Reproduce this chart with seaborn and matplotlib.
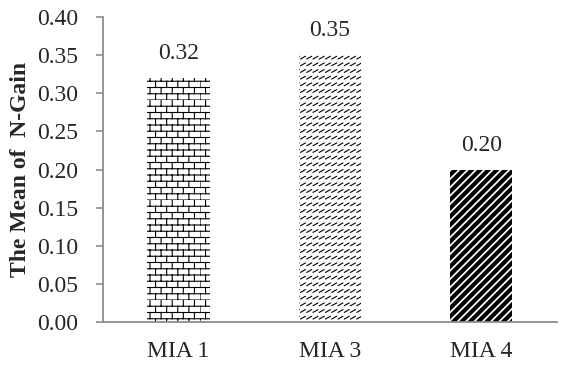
import warnings

import matplotlib
matplotlib.use("Agg")
import matplotlib.hatch as mhatch
import matplotlib.pyplot as plt
import numpy as np
import pandas as pd
import seaborn as sns
from matplotlib.path import Path

warnings.filterwarnings("ignore")

groups = ["MIA 1", "MIA 3", "MIA 4"]
mean_gain = [0.32, 0.35, 0.20]
value_labels = ["0.32", "0.35", "0.20"]
y_ticks = [0.00, 0.05, 0.10, 0.15, 0.20, 0.25, 0.30, 0.35, 0.40]


class BrickHatch(mhatch.HatchPatternBase):
    """Brick wall pattern, triggered by 'b'."""

    def __init__(self, hatch, density):
        self.rows = 16 if "b" in hatch else 0
        self.cols = 9
        self.num_lines = self.rows + self.rows * self.cols if self.rows else 0
        self.num_vertices = self.num_lines * 2

    def set_vertices_and_codes(self, vertices, codes):
        h = 1.0 / self.rows
        w = 1.0 / self.cols
        segs = []
        for i in range(self.rows):
            segs.append(((0.0, i * h), (1.0, i * h)))
            off = 0.0 if i % 2 == 0 else w / 2
            for k in range(self.cols):
                x = off + k * w
                segs.append(((x, i * h), (x, (i + 1) * h)))
        pts = np.array(segs).reshape(-1, 2)
        vertices[:] = pts
        codes[0::2] = Path.MOVETO
        codes[1::2] = Path.LINETO


class DashHatch(mhatch.HatchPatternBase):
    """Rows of short diagonal dashes, triggered by 'd'."""

    def __init__(self, hatch, density):
        self.rows = 15 if "d" in hatch else 0
        self.cols = 16
        self.num_lines = self.rows * self.cols
        self.num_vertices = self.num_lines * 2

    def set_vertices_and_codes(self, vertices, codes):
        h = 1.0 / self.rows
        w = 1.0 / self.cols
        segs = []
        for i in range(self.rows):
            y0 = i * h + 0.15 * h
            for k in range(self.cols):
                x0 = k * w + 0.1 * w
                segs.append(((x0, y0), (x0 + 0.75 * w, y0 + 0.4 * h)))
        pts = np.array(segs).reshape(-1, 2)
        vertices[:] = pts
        codes[0::2] = Path.MOVETO
        codes[1::2] = Path.LINETO


mhatch._hatch_types.extend([BrickHatch, DashHatch])

sns.set_theme(style="white")
plt.rcParams["font.family"] = ["Liberation Serif", "DejaVu Serif"]

df = pd.DataFrame({"group": groups, "gain": mean_gain})

fig = plt.figure(figsize=(5.65, 3.65), dpi=100)
ax = fig.add_axes([0.182, 0.118, 0.804, 0.835])

sns.barplot(data=df, x="group", y="gain", color="white", width=0.41, ax=ax)

hatches = ["b", "d", "////"]
hatch_lw = [0.8, 0.8, 3.0]
for patch, hatch, lw in zip(ax.patches, hatches, hatch_lw):
    patch.set_hatch(hatch)
    patch.set_edgecolor("black")
    patch.set_linewidth(0)
    if hasattr(patch, "set_hatch_linewidth"):
        patch.set_hatch_linewidth(lw)

ax.bar_label(ax.containers[0], labels=value_labels, padding=10, fontsize=17)

ax.set_ylim(0, 0.40)
ax.set_yticks(y_ticks)
ax.set_yticklabels([f"{t:.2f}" for t in y_ticks], fontsize=17)
ax.set_xlim(-0.5, 2.5)
ax.set_xticks(range(len(groups)))
ax.set_xticklabels(groups, fontsize=17)
ax.set_xticks([-0.5, 0.5, 1.5, 2.5], minor=True)
ax.tick_params(axis="x", which="major", length=0, pad=14)
ax.tick_params(axis="x", which="minor", length=6, width=1.2, color="#8c8c8c", direction="out")
ax.tick_params(axis="y", length=5, width=1.2, color="#8c8c8c", direction="out", left=True, pad=13)

ax.set_xlabel("")
ax.set_ylabel("The Mean of  N-Gain", fontsize=17, fontweight="bold", labelpad=4)

sns.despine(ax=ax)
for side in ["left", "bottom"]:
    ax.spines[side].set_color("#8c8c8c")
    ax.spines[side].set_linewidth(1.3)

fig.savefig("out.png", dpi=100)
